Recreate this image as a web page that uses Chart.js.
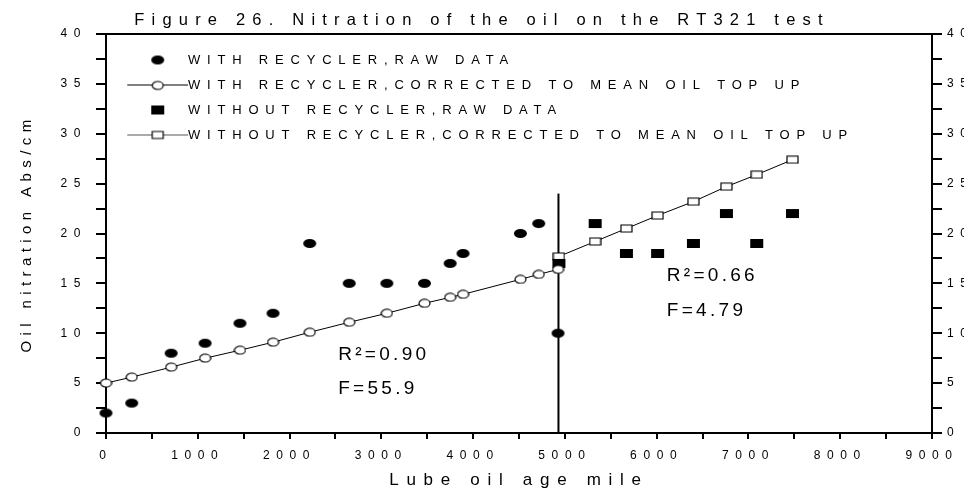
<!DOCTYPE html>
<html>
<head>
<meta charset="utf-8">
<script src="https://cdn.jsdelivr.net/npm/chart.js@4/dist/chart.umd.min.js"></script>
<style>
  body { margin: 0; background: #fff; }
  canvas { display: block; }
</style>
</head>
<body>
<canvas id="grafica" width="980" height="497"></canvas>
<script>
const $grafica = document.querySelector("#grafica");

const etiquetas = [
  "WITH RECYCLER,RAW DATA",
  "WITH RECYCLER,CORRECTED TO MEAN OIL TOP UP",
  "WITHOUT RECYCLER,RAW DATA",
  "WITHOUT RECYCLER,CORRECTED TO MEAN OIL TOP UP"
];

// lube oil age (mile) and oil nitration (Abs/cm)
const withMiles = [0, 280, 710, 1080, 1460, 1820, 2220, 2650, 3060, 3470, 3750, 3890, 4515, 4715, 4925];
const withRaw = [2, 3, 8, 9, 11, 12, 19, 15, 15, 15, 17, 18, 20, 21, 10];
const withCorrected = [5.0, 5.6, 6.6, 7.5, 8.3, 9.1, 10.1, 11.1, 12.0, 13.0, 13.6, 13.9, 15.4, 15.9, 16.4];

const withoutMiles = [4935, 5330, 5670, 6010, 6400, 6760, 7090, 7480];
const withoutRaw = [17, 21, 18, 18, 19, 22, 19, 22];
const withoutCorrected = [17.7, 19.2, 20.5, 21.8, 23.2, 24.7, 25.9, 27.4];

// vertical divider between the two periods
const splitMiles = [4930, 4930];
const splitLevel = [0, 24];

const xTickLabels = [0, 1000, 2000, 3000, 4000, 5000, 6000, 7000, 8000, 9000];
const yTickLabels = [0, 5, 10, 15, 20, 25, 30, 35, 40];

const fitStats = ["R²=0.90", "F=55.9", "R²=0.66", "F=4.79"];

// the original figure spreads its letters out, spacing depends on text size
const letterSpacing = { 12: 6.6, 13: 6.8, 15: 5.4, 16.5: 7.2, 17: 7.7, 19: 3.3 };
const ctx = $grafica.getContext("2d");
const fontProp = Object.getOwnPropertyDescriptor(CanvasRenderingContext2D.prototype, "font");
Object.defineProperty(ctx, "font", {
  get() { return fontProp.get.call(this); },
  set(value) {
    fontProp.set.call(this, value);
    const m = /([\d.]+)px/.exec(value);
    this.letterSpacing = ((m && letterSpacing[parseFloat(m[1])]) || 0) + "px";
  }
});

function marker(shape, w, h, filled) {
  const c = document.createElement("canvas");
  c.width = w + 2;
  c.height = h + 2;
  const g = c.getContext("2d");
  g.fillStyle = filled ? "#000" : "#fff";
  g.strokeStyle = "#000";
  g.lineWidth = 1.2;
  g.beginPath();
  if (shape === "ellipse") g.ellipse(c.width / 2, c.height / 2, w / 2, h / 2, 0, 0, Math.PI * 2);
  else g.rect(1, 1, w, h);
  g.fill();
  if (!filled) g.stroke();
  return c;
}

// legend symbol: short line with the marker in its middle
function legendIcon(m, lineColor) {
  const c = document.createElement("canvas");
  c.width = 77;
  c.height = 13;
  const g = c.getContext("2d");
  if (lineColor) {
    g.strokeStyle = lineColor;
    g.lineWidth = 1;
    g.beginPath();
    g.moveTo(16, 6.5);
    g.lineTo(77, 6.5);
    g.stroke();
  }
  g.drawImage(m, Math.round(46 - m.width / 2), Math.round(6.5 - m.height / 2));
  return c;
}

const dotFilled = marker("ellipse", 13, 9, true);
const dotOpen = marker("ellipse", 11, 8, false);
const boxFilled = marker("rect", 13, 9, true);
const boxOpen = marker("rect", 11, 7, false);
const legendIcons = [
  legendIcon(dotFilled),
  legendIcon(dotOpen, "#000"),
  legendIcon(boxFilled),
  legendIcon(boxOpen, "#555")
];

const pts = (xs, ys) => xs.map((x, i) => ({ x: x, y: ys[i] }));

const fitNotes = {
  id: "fitNotes",
  afterDatasetsDraw(chart) {
    const { ctx, scales: { x, y } } = chart;
    const anchors = [[2530, 7.3], [2530, 3.9], [6110, 15.25], [6110, 11.7]];
    ctx.save();
    ctx.font = "19px 'Liberation Sans', Arial, sans-serif";
    ctx.fillStyle = "#000";
    ctx.textAlign = "left";
    ctx.textBaseline = "alphabetic";
    fitStats.forEach((t, i) => {
      ctx.fillText(t, x.getPixelForValue(anchors[i][0]), y.getPixelForValue(anchors[i][1]));
    });
    ctx.restore();
  }
};

// legend in 'chartArea' position starts at the canvas top, move it into the plot
const legendInside = {
  id: "legendInside",
  afterLayout(chart) {
    chart.legend.top = chart.chartArea.top;
    chart.legend.bottom = chart.chartArea.bottom;
  }
};

Chart.defaults.font.family = "'Liberation Sans', Arial, sans-serif";
Chart.defaults.color = "#000";

const axisGrid = { drawOnChartArea: false, color: "#000", lineWidth: 2, tickLength: 10 };
const axisBorder = { display: true, color: "#000", width: 2 };

new Chart($grafica, {
  type: "scatter",
  data: {
    datasets: [
      {
        label: etiquetas[0],
        data: pts(withMiles, withRaw),
        pointStyle: dotFilled,
        pointRadius: 5,
        clip: false
      },
      {
        label: etiquetas[1],
        data: pts(withMiles, withCorrected),
        showLine: true,
        borderColor: "#000",
        borderWidth: 1,
        pointStyle: dotOpen,
        pointRadius: 5,
        clip: false
      },
      {
        label: etiquetas[2],
        data: pts(withoutMiles, withoutRaw),
        pointStyle: boxFilled,
        pointRadius: 5,
        clip: false
      },
      {
        label: etiquetas[3],
        data: pts(withoutMiles, withoutCorrected),
        showLine: true,
        borderColor: "#000",
        borderWidth: 1,
        pointStyle: boxOpen,
        pointRadius: 5,
        clip: false
      },
      {
        label: "",
        data: pts(splitMiles, splitLevel),
        showLine: true,
        borderColor: "#000",
        borderWidth: 2,
        pointRadius: 0
      }
    ]
  },
  options: {
    responsive: false,
    animation: false,
    layout: { padding: { left: 0, right: 16, top: 0, bottom: 0 } },
    scales: {
      x: {
        type: "linear",
        position: "bottom",
        min: 0,
        max: 9000,
        grid: { ...axisGrid, tickLength: 6 },
        border: axisBorder,
        ticks: {
          stepSize: 500,
          autoSkip: false,
          maxRotation: 0,
          padding: 9,
          font: { size: 12 },
          callback: (v) => (xTickLabels.includes(v) ? String(v) : "")
        },
        title: {
          display: true,
          text: "Lube oil age mile",
          font: { size: 17 },
          padding: { top: 0, bottom: 6 }
        },
        afterFit: (scale) => { scale.height = 64; }
      },
      xTop: {
        type: "linear",
        position: "top",
        min: 0,
        max: 9000,
        grid: { drawOnChartArea: false, drawTicks: false },
        border: axisBorder,
        ticks: { display: false },
        afterFit: (scale) => { scale.height = 0; }
      },
      y: {
        position: "left",
        min: 0,
        max: 40,
        grid: axisGrid,
        border: axisBorder,
        ticks: {
          stepSize: 2.5,
          autoSkip: false,
          padding: 9,
          font: { size: 12 },
          callback: (v) => (yTickLabels.includes(v) ? String(v) : "")
        },
        title: {
          display: true,
          text: "Oil nitration Abs/cm",
          font: { size: 15 },
          padding: { top: 18, bottom: 0 }
        },
        afterFit: (scale) => { scale.width = 106; }
      },
      y2: {
        position: "right",
        min: 0,
        max: 40,
        grid: axisGrid,
        border: axisBorder,
        ticks: {
          stepSize: 2.5,
          autoSkip: false,
          padding: 5,
          font: { size: 12 },
          callback: (v) => (yTickLabels.includes(v) ? String(v) : "")
        },
        afterFit: (scale) => { scale.width = 32; }
      }
    },
    plugins: {
      tooltip: { enabled: false },
      title: {
        display: true,
        text: "Figure 26. Nitration of the oil on the RT321 test",
        font: { size: 16.5, weight: "normal" },
        color: "#000",
        padding: { top: 10.5, bottom: 3.7 }
      },
      legend: {
        position: "chartArea",
        align: "start",
        title: { display: true, text: "", font: { size: 5, lineHeight: 1.5 }, padding: 0 },
        labels: {
          usePointStyle: true,
          pointStyleWidth: 63.5,
          padding: 12,
          font: { size: 13 },
          color: "#000",
          generateLabels: (chart) => chart.data.datasets.slice(0, 4).map((ds, i) => ({
            text: ds.label,
            pointStyle: legendIcons[i],
            fontColor: "#000",
            lineWidth: 0,
            hidden: false,
            datasetIndex: i
          }))
        }
      }
    }
  },
  plugins: [fitNotes, legendInside]
});
</script>
</body>
</html>
